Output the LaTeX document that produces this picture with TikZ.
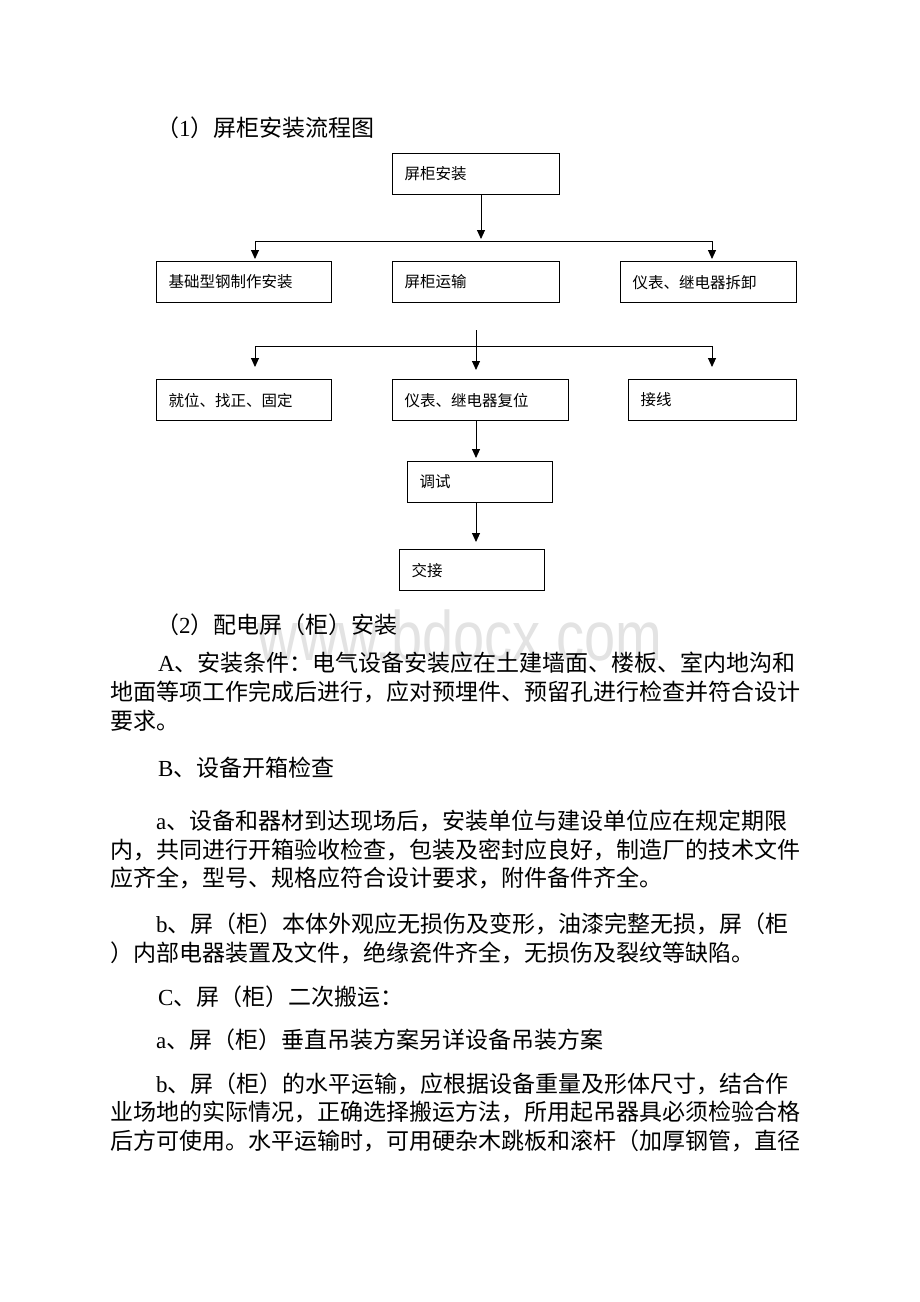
\documentclass[tikz,border=0pt]{standalone}
\usepackage{fontspec}
\setmainfont{Liberation Serif}
\newfontfamily\cjk{Noto Sans CJK SC}
\newfontfamily\wmfont{Liberation Sans}
\usetikzlibrary{arrows.meta}
\newcommand\latn[1]{{\rmfamily #1}}
\begin{document}
\begin{tikzpicture}[x=1pt,y=-1pt,
  fbox/.style={draw, line width=1.2pt, anchor=north west, minimum height=41pt,
    inner xsep=12pt, inner ysep=0pt, align=left,
    font=\cjk\fontsize{15.5}{18}\selectfont},
  conn/.style={line width=0.9pt},
  arr/.style={line width=0.9pt, -{Triangle[length=9pt,width=8pt]}},
  ptext/.style={anchor=base west, inner sep=0pt, font=\cjk\fontsize{23}{23}\selectfont},
]
\useasboundingbox (0,0) rectangle (920,1302);
\fill[white] (0,0) rectangle (920,1302);

% watermark
\node[font=\wmfont\fontsize{70}{70}\selectfont, text=black!11, xscale=0.8,
  anchor=base, inner sep=0pt] (wm) at (460,660) {www.bdocx.com};

% title
\node[ptext] (t0) at (156,136) {（\latn{1}）屏柜安装流程图};

% boxes
\node[fbox, text width=143pt] (b1) at (392,153) {屏柜安装};
\node[fbox, text width=151pt] (b2a) at (156,261) {基础型钢制作安装};
\node[fbox, text width=143pt] (b2b) at (392,261) {屏柜运输};
\node[fbox, text width=152pt] (b2c) at (620,261) {仪表、继电器拆卸};
\node[fbox, text width=151pt] (b3a) at (156,379) {就位、找正、固定};
\node[fbox, text width=152pt] (b3b) at (392,379) {仪表、继电器复位};
\node[fbox, text width=144pt] (b3c) at (628,379) {接线};
\node[fbox, text width=121pt] (b4) at (407,461) {调试};
\node[fbox, text width=121pt] (b5) at (399,549) {交接};

% connectors
\coordinate (h1) at (481,241);
\coordinate (h1l) at (255,241);
\coordinate (h1r) at (712,241);
\draw[arr, shorten >=2pt] (b1.south -| h1) -- (h1);
\draw[conn] (h1l) -- (h1r);
\draw[arr, shorten >=2pt] (h1l) -- (b2a.north -| h1l);
\draw[arr, shorten >=2pt] (h1r) -- (b2c.north -| h1r);

\coordinate (v2) at (476,330);
\coordinate (h2l) at (255,346);
\coordinate (h2r) at (712,346);
\draw[conn] (h2l) -- (h2r);
\draw[arr, shorten >=9pt] (v2) -- (b3b.north -| v2);
\draw[arr, shorten >=12pt] (h2l) -- (b3a.north -| h2l);
\draw[arr, shorten >=12pt] (h2r) -- (b3c.north -| h2r);
\draw[arr, shorten >=3pt] (b3b.south -| v2) -- (b4.north -| v2);
\draw[arr, shorten >=7pt] (b4.south -| v2) -- (b5.north -| v2);

% body text
\node[ptext] (p1) at (156,633) {（\latn{2}）配电屏（柜）安装};
\node[ptext] (p2) at (158,671) {\latn{A}、安装条件：电气设备安装应在土建墙面、楼板、室内地沟和};
\node[ptext] (p3) at (110,700) {地面等项工作完成后进行，应对预埋件、预留孔进行检查并符合设计};
\node[ptext] (p4) at (110,729) {要求。};
\node[ptext] (p5) at (158,776) {\latn{B}、设备开箱检查};
\node[ptext] (p6) at (156,829) {\latn{a}、设备和器材到达现场后，安装单位与建设单位应在规定期限};
\node[ptext] (p7) at (110,858) {内，共同进行开箱验收检查，包装及密封应良好，制造厂的技术文件};
\node[ptext] (p8) at (110,886) {应齐全，型号、规格应符合设计要求，附件备件齐全。};
\node[ptext] (p9) at (156,932) {\latn{b}、屏（柜）本体外观应无损伤及变形，油漆完整无损，屏（柜};
\node[ptext] (p10) at (110,961) {）内部电器装置及文件，绝缘瓷件齐全，无损伤及裂纹等缺陷。};
\node[ptext] (p11) at (158,1005) {\latn{C}、屏（柜）二次搬运：};
\node[ptext] (p12) at (156,1048) {\latn{a}、屏（柜）垂直吊装方案另详设备吊装方案};
\node[ptext] (p13) at (156,1092) {\latn{b}、屏（柜）的水平运输，应根据设备重量及形体尺寸，结合作};
\node[ptext] (p14) at (110,1120) {业场地的实际情况，正确选择搬运方法，所用起吊器具必须检验合格};
\node[ptext] (p15) at (110,1149) {后方可使用。水平运输时，可用硬杂木跳板和滚杆（加厚钢管，直径};
\end{tikzpicture}
\end{document}
